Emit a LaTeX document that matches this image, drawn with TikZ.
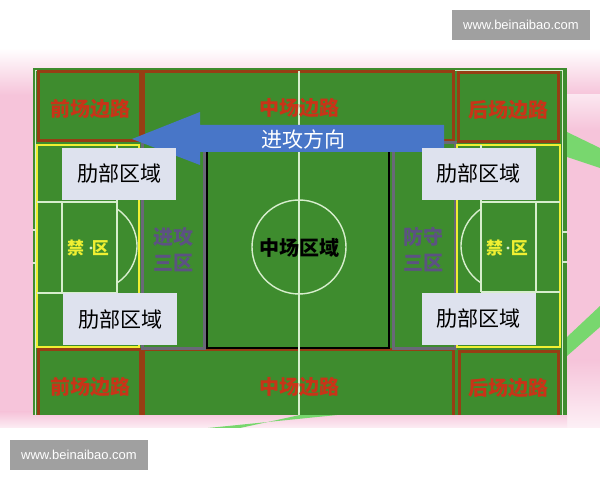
\documentclass[tikz,border=0pt]{standalone}
\usepackage{fontspec}
\newfontfamily\cjk{Noto Sans CJK SC}
\newfontfamily\wmfont{Liberation Sans}
\definecolor{fieldgreen}{RGB}{62,140,46}
\definecolor{linegreen}{RGB}{215,238,205}
\definecolor{brownline}{RGB}{150,62,20}
\definecolor{redtext}{RGB}{200,52,24}
\definecolor{zonegray}{RGB}{105,105,120}
\definecolor{zonetext}{RGB}{92,82,130}
\definecolor{boxfill}{RGB}{222,226,238}
\definecolor{arrowblue}{RGB}{72,118,200}
\definecolor{boxyellow}{RGB}{240,240,50}
\definecolor{bgpink}{RGB}{246,196,218}
\definecolor{stripegreen}{RGB}{120,215,110}
\definecolor{wmgray}{RGB}{160,160,160}

\begin{document}
\begin{tikzpicture}[x=0.5pt,y=-0.5pt]
		\tikzstyle{every node}+=[inner sep=0pt]
		\tikzstyle{brownbox}=[draw=brownline, line width=1.5pt]
		\tikzstyle{fieldline}=[draw=linegreen, line width=0.7pt]
		\tikzstyle{wingtext}=[text=redtext, font=\cjk\bfseries\fontsize{10}{12}\selectfont]
		\tikzstyle{zonelabel}=[text=zonetext, align=center, font=\cjk\bfseries\fontsize{10}{13}\selectfont]
		\tikzstyle{ribzone}=[fill=boxfill, minimum width=57pt, minimum height=26pt, font=\cjk\fontsize{10.5}{12}\selectfont]
		\tikzstyle{boxtext}=[text=boxyellow, font=\cjk\bfseries\fontsize{8.5}{10}\selectfont]
		\tikzstyle{wmbox}=[fill=wmgray, text=white, minimum width=69pt, minimum height=15pt, font=\wmfont\fontsize{6.5}{8}\selectfont]
		\useasboundingbox (0,0) rectangle (600,480);
		\fill [white] (0,0) rectangle (600,480);
		\fill [bgpink] (0,50) rectangle (600,428);
		\shade [top color=white, bottom color=bgpink] (0,48) rectangle (600,95);
		\shade [top color=bgpink!40!white, bottom color=bgpink] (567,95) rectangle (600,130);
		\shade [top color=bgpink, bottom color=bgpink!25!white] (567,360) rectangle (600,428);
		\shade [top color=bgpink, bottom color=bgpink!30!white] (0,412) rectangle (567,428);
		\fill [stripegreen] (567,132) -- (600,148) -- (600,168) -- (567,157) -- cycle;
		\fill [stripegreen] (567,337) -- (600,306) -- (600,327) -- (567,356) -- cycle;
		\fill [stripegreen] (208,428) -- (337,415) -- (300,415) -- (240,428) -- cycle;
		\fill [fieldgreen] (33,68) rectangle (567,415);
		\draw [fieldline] (35.5,415) -- (35.5,70.5) -- (562.5,70.5) -- (562.5,415);
		\draw [fieldline] (33,230) -- (35.5,230);
		\draw [fieldline] (33,263) -- (35.5,263);
		\draw [fieldline] (562.5,232) -- (567,232);
		\draw [fieldline] (562.5,262) -- (567,262);
		\draw [brownbox] (38,72) rectangle (140,141);
		\draw [brownbox] (143,72) rectangle (453,141);
		\draw [brownbox] (458,73) rectangle (558,142);
		\draw [brownbox] (38,415) |- (140,350) -- (140,415);
		\draw [brownbox] (143,415) |- (453,350) -- (453,415);
		\draw [brownbox] (459,415) |- (558,352) -- (558,415);
		\draw [zonegray, line width=1.5pt] (142,143) rectangle (204,349);
		\draw [zonegray, line width=1.5pt] (393,143) rectangle (455,349);
		\draw [black, line width=1pt] (207,148) rectangle (389,348);
		\draw [fieldline] (299,71) -- (299,415);
		\draw [fieldline] (299,247) circle (47);
		\draw [boxyellow, line width=1pt] (37,145) rectangle (139,347);
		\draw [boxyellow, line width=1pt] (457,145) rectangle (560,347);
		\draw [fieldline] (117,145) -- (117,293);
		\draw [fieldline] (37,202) -- (117,202);
		\draw [fieldline] (37,293) -- (117,293);
		\draw [fieldline] (62,202) -- (62,293);
		\draw [fieldline] (117,209) arc [start angle=-56.8, end angle=56.8, radius=44.2];
		\draw [fieldline] (481,145) -- (481,292);
		\draw [fieldline] (481,202) -- (560,202);
		\draw [fieldline] (481,292) -- (560,292);
		\draw [fieldline] (536,202) -- (536,292);
		\draw [fieldline] (481,209) arc [start angle=236.8, end angle=123.2, radius=44.2];
		\fill [linegreen] (91,248) circle (1.6);
		\fill [linegreen] (508,248) circle (1.6);
		\fill [arrowblue] (132,139) -- (200,112) -- (200,125) -- (444,125) -- (444,152) -- (200,152) -- (200,165) -- cycle;
		\node [ribzone] (ribtl) at (119,174) {肋部区域};
		\node [ribzone] (ribbl) at (120,319.5) {肋部区域};
		\node [ribzone] (ribtr) at (478.5,174) {肋部区域};
		\node [ribzone] (ribbr) at (478.5,319) {肋部区域};
		\node [wingtext] (fronttop) at (90,109) {前场边路};
		\node [wingtext] (midtop) at (299,108) {中场边路};
		\node [wingtext] (backtop) at (508,110) {后场边路};
		\node [wingtext] (frontbot) at (90,387) {前场边路};
		\node [wingtext] (midbot) at (299,387) {中场边路};
		\node [wingtext] (backbot) at (508,388) {后场边路};
		\node [text=white, font=\cjk\fontsize{10.5}{12}\selectfont] (attackdir) at (303,139) {进攻方向};
		\node [font=\cjk\bfseries\fontsize{10}{12}\selectfont] (midzone) at (299,248) {中场区域};
		\node [zonelabel] (attackthird) at (173,250) {进攻\\三区};
		\node [zonelabel] (defendthird) at (423,250) {防守\\三区};
		\node [boxtext] (boxleft) at (88,248) {禁\hspace{0.45em}区};
		\node [boxtext] (boxright) at (507,248) {禁\hspace{0.45em}区};
		\node [wmbox] (wmtop) at (521,25) {www.beinaibao.com};
		\node [wmbox] (wmbot) at (79,455) {www.beinaibao.com};
	\end{tikzpicture}
\end{document}
